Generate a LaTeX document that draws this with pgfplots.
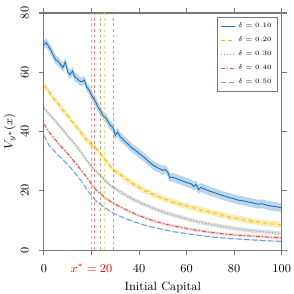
\documentclass[border=0pt]{standalone}
\usepackage{pgfplots}
\usepackage{pgfplotstable}
\pgfplotsset{compat=1.18}
\usepgfplotslibrary{fillbetween}
\definecolor{cblue}{RGB}{30,115,190}
\definecolor{cyellow}{RGB}{240,190,0}
\definecolor{cgray}{RGB}{150,150,150}
\definecolor{cred}{RGB}{225,80,75}
\definecolor{clblue}{RGB}{105,155,225}
\definecolor{axgray}{RGB}{120,120,120}

\pgfplotstableread{
x y
0 69.3
1 70.0
2 68.6
3 67.4
4 65.6
5 64.2
6 63.6
7 62.6
8 61.6
9 63.4
10 60.2
11 59.2
12 60.4
13 58.4
14 57.8
15 57.0
16 56.8
17 57.4
18 55.0
19 54.0
20 52.3
21 51.0
22 49.6
23 47.8
24 46.8
25 45.2
26 44.6
27 43.3
28 42.0
29 41.4
30 38.8
31 39.8
32 38.3
33 37.6
34 36.8
35 36.0
36 35.3
37 34.4
38 33.9
39 33.3
40 32.6
42 31.4
44 29.9
46 28.6
48 27.7
50 26.9
51 27.2
52 26.4
53 24.4
54 24.6
56 24.0
58 23.4
60 22.8
62 22.3
63 21.5
64 22.1
65 20.4
66 21.1
68 20.4
70 19.8
72 19.3
74 18.7
76 18.2
78 17.7
80 17.3
82 16.8
84 16.6
86 16.2
88 15.9
90 15.5
92 15.6
94 15.1
96 14.8
98 14.6
100 14.2
}\dblue

\pgfplotstableread{
x yel gry red lbl
0 55.5 48.0 42.5 38.7
2 53.6 46.0 40.0 35.5
4 51.2 44.3 38.0 33.8
6 49.4 42.3 36.0 32.0
8 47.2 40.5 34.3 30.5
10 45.3 38.5 32.5 28.8
12 43.2 36.7 30.6 27.0
14 41.3 34.7 28.6 25.0
16 39.2 32.6 26.6 23.0
18 37.1 30.3 24.5 20.5
20 35.6 28.0 22.2 18.3
22 34.2 26.5 20.2 16.5
24 32.3 25.0 18.8 15.2
26 30.2 23.3 17.5 14.1
28 28.1 21.8 16.4 13.0
30 26.5 20.7 15.5 12.1
32 25.6 19.7 14.6 11.4
34 24.2 18.7 13.8 10.7
36 23.3 17.8 13.0 10.1
38 22.0 16.9 12.3 9.5
40 21.2 16.2 11.6 9.0
42 20.1 15.4 11.0 8.5
44 19.6 14.8 10.4 8.1
46 18.7 14.1 9.9 7.7
48 18.1 13.5 9.4 7.3
50 17.4 12.9 9.0 7.0
52 16.9 12.4 8.6 6.6
54 16.2 11.9 8.2 6.3
56 15.9 11.4 7.9 6.0
58 15.2 11.0 7.6 5.8
60 14.9 10.5 7.3 5.5
62 14.3 10.1 7.0 5.3
64 14.1 9.7 6.7 5.1
66 13.5 9.4 6.5 4.9
68 13.3 9.0 6.2 4.7
70 12.7 8.7 6.0 4.5
72 12.5 8.4 5.8 4.3
74 11.9 8.1 5.6 4.2
76 11.7 7.8 5.4 4.0
78 11.1 7.6 5.3 3.9
80 10.9 7.3 5.1 3.8
82 10.6 7.1 5.0 3.7
84 10.2 6.9 4.9 3.6
86 10.0 6.7 4.8 3.5
88 9.6 6.5 4.7 3.4
90 9.5 6.3 4.6 3.3
92 9.2 6.2 4.5 3.2
94 9.1 6.0 4.4 3.1
96 8.8 5.9 4.3 3.05
98 8.7 5.7 4.2 3.0
100 8.5 5.6 4.1 2.9
}\dothers

\begin{document}
\begin{tikzpicture}
\begin{axis}[
  width=178.5pt, height=178pt, scale only axis,
  xmin=0, xmax=100, ymin=0, ymax=80,
  xtick={0,20,40,60,80,100},
  xticklabels={0,{\color{red}$x^*=20$},40,60,80,100},
  ytick={0,20,40,60,80},
  yticklabel style={rotate=90, yshift=4pt},
  xticklabel style={yshift=-3pt},
  ylabel style={yshift=-3pt},
  tick align=outside,
  tick style={axgray, line width=0.8pt},
  major tick length=4pt,
  axis line style={axgray, line width=0.8pt},
  xlabel={Initial Capital},
  ylabel={$V_{y^*}(x)$},
  tick label style={font=\small},
  label style={font=\small},
  legend style={at={(0.985,0.985)}, anchor=north east, draw=axgray, line width=0.6pt, font=\tiny, inner sep=2.5pt, row sep=1.6pt,
    /tikz/every even column/.append style={column sep=0pt}},
  legend cell align=left,
  legend image code/.code={\draw[#1, line width=0.6pt] (0cm,0cm) -- (0.38cm,0cm);},
]
% vertical reference lines
\addplot[forget plot, cred!55, dash pattern=on 2.2pt off 2pt, line width=0.45pt] coordinates {(19.9,0) (19.9,80)};
\addplot[forget plot, cred!70, dash pattern=on 2.2pt off 2pt, line width=0.45pt] coordinates {(21.1,0) (21.1,80)};
\addplot[forget plot, cgray!80, dash pattern=on 2.2pt off 2pt, line width=0.45pt] coordinates {(23.7,0) (23.7,80)};
\addplot[forget plot, cyellow!55, dash pattern=on 2.2pt off 2pt, line width=0.45pt] coordinates {(25.5,0) (25.5,80)};
\addplot[forget plot, cblue!55, dash pattern=on 2.2pt off 2pt, line width=0.45pt] coordinates {(29.3,0) (29.3,80)};

% bands
\addplot[forget plot, name path=bu, draw=none] table[x=x, y expr=\thisrow{y}+1.5] {\dblue};
\addplot[forget plot, name path=bl, draw=none] table[x=x, y expr=\thisrow{y}-1.5] {\dblue};
\addplot[forget plot, cblue, fill opacity=0.3] fill between[of=bu and bl];
\addplot[forget plot, name path=yu, draw=none] table[x=x, y expr=\thisrow{yel}+1.0] {\dothers};
\addplot[forget plot, name path=yl, draw=none] table[x=x, y expr=\thisrow{yel}-1.0] {\dothers};
\addplot[forget plot, cyellow, fill opacity=0.3] fill between[of=yu and yl];
\addplot[forget plot, name path=gu, draw=none] table[x=x, y expr=\thisrow{gry}+0.7] {\dothers};
\addplot[forget plot, name path=gl, draw=none] table[x=x, y expr=\thisrow{gry}-0.7] {\dothers};
\addplot[forget plot, cgray, fill opacity=0.3] fill between[of=gu and gl];
\addplot[forget plot, name path=ru, draw=none] table[x=x, y expr=\thisrow{red}+0.45] {\dothers};
\addplot[forget plot, name path=rl, draw=none] table[x=x, y expr=\thisrow{red}-0.45] {\dothers};
\addplot[forget plot, cred, fill opacity=0.25] fill between[of=ru and rl];
\addplot[forget plot, name path=lu, draw=none] table[x=x, y expr=\thisrow{lbl}+0.25] {\dothers};
\addplot[forget plot, name path=ll, draw=none] table[x=x, y expr=\thisrow{lbl}-0.25] {\dothers};
\addplot[forget plot, clblue, fill opacity=0.25] fill between[of=lu and ll];

% curves
\addplot[cblue, line width=0.7pt] table[x=x, y=y] {\dblue};
\addlegendentry{$\delta=0.10$}
\addplot[cyellow, line width=0.7pt, dash pattern=on 3pt off 2.5pt] table[x=x, y=yel] {\dothers};
\addlegendentry{$\delta=0.20$}
\addplot[cgray, line width=0.7pt, dash pattern=on 0.8pt off 1.5pt] table[x=x, y=gry] {\dothers};
\addlegendentry{$\delta=0.30$}
\addplot[cred, line width=0.7pt, dash pattern=on 3pt off 1.5pt on 0.8pt off 1.5pt] table[x=x, y=red] {\dothers};
\addlegendentry{$\delta=0.40$}
\addplot[clblue, line width=0.7pt, dash pattern=on 4pt off 2pt] table[x=x, y=lbl] {\dothers};
\addlegendentry{$\delta=0.50$}
\end{axis}
\pgfresetboundingbox
\path ([shift={(-33pt,-33pt)}]current axis.south west) rectangle ([shift={(9pt,9.75pt)}]current axis.north east);
\end{tikzpicture}
\end{document}
